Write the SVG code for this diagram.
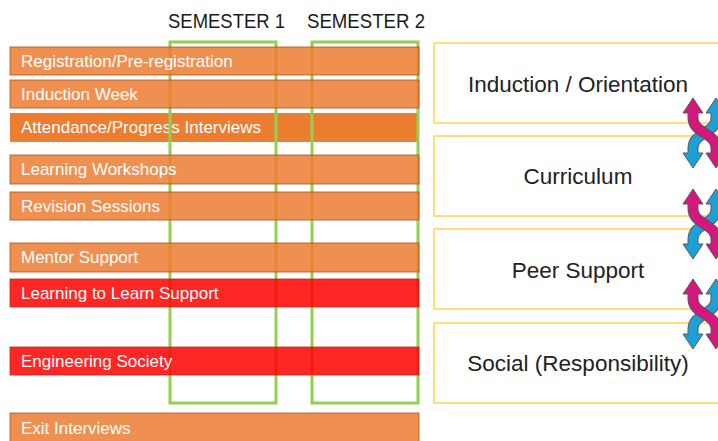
<svg xmlns="http://www.w3.org/2000/svg" xmlns:xlink="http://www.w3.org/1999/xlink" width="718" height="441" viewBox="0 0 718 441">
<style>
.bar{fill:#ED7D31;fill-opacity:0.85;stroke:#A85420;stroke-opacity:0.8;stroke-width:1}
.bar.solid{fill-opacity:1;stroke:none}
.bar.red{fill:#FF0000;stroke:#B03020}
.bt{font-family:"Liberation Sans",Arial,sans-serif;font-size:17px;fill:#FFFFFF}
.sem{fill:none;stroke:#92D050;stroke-width:3}
.st{font-family:"Liberation Sans",Arial,sans-serif;font-size:21px;fill:#1A1A1A}
.box{fill:#FFFFFF;stroke:#FFD34F;stroke-width:1.5}
.bx{font-family:"Liberation Sans",Arial,sans-serif;font-size:22.5px;fill:#222222;text-anchor:middle}
.head{stroke:#5A5A5A;stroke-width:1;stroke-linejoin:round}
.out{fill:none;stroke:#5A5A5A;stroke-width:11}
.mag{fill:#D4177C}
.blu{fill:#1BA0D8}
.magS{fill:none;stroke:#D4177C;stroke-width:9}
.bluS{fill:none;stroke:#1BA0D8;stroke-width:9}
</style>
<defs>
<g id="swap">
  <polygon class="head blu" points="716,0 726,15 706,15"/>
  <polygon class="head blu" points="693,70 703,55 683,55"/>
  <path class="out" d="M716,15 L716,20 C716,35 693,35 693,50 L693,55"/>
  <path class="bluS" d="M716,14 L716,20 C716,35 693,35 693,50 L693,56"/>
  <polygon class="head mag" points="693,0 703,15 683,15"/>
  <polygon class="head mag" points="716,70 726,55 706,55"/>
  <path class="out" d="M693,15 L693,20 C693,35 716,35 716,50 L716,55"/>
  <path class="magS" d="M693,14 L693,20 C693,35 716,35 716,50 L716,56"/>
</g>
</defs>

<g id="semester-labels">
  <text class="st" x="168" y="28" textLength="117" lengthAdjust="spacingAndGlyphs">SEMESTER 1</text>
  <text class="st" x="307" y="28" textLength="118" lengthAdjust="spacingAndGlyphs">SEMESTER 2</text>
</g>

<g id="attendance">
  <rect class="bar solid" x="10" y="113" width="409" height="29"/>
  <text class="bt" x="21" y="133">Attendance/Progress Interviews</text>
</g>

<g id="semester-1"><rect class="sem" x="170" y="42" width="106" height="361"/></g>
<g id="semester-2"><rect class="sem" x="312" y="42" width="106" height="361"/></g>

<g id="registration">
  <rect class="bar" x="10" y="47" width="409" height="28"/>
  <text class="bt" x="21" y="67">Registration/Pre-registration</text>
</g>
<g id="induction-week">
  <rect class="bar" x="10" y="80" width="409" height="28"/>
  <text class="bt" x="21" y="100">Induction Week</text>
</g>
<g id="learning-workshops">
  <rect class="bar" x="10" y="155" width="409" height="29"/>
  <text class="bt" x="21" y="175">Learning Workshops</text>
</g>
<g id="revision-sessions">
  <rect class="bar" x="10" y="192" width="409" height="28"/>
  <text class="bt" x="21" y="212">Revision Sessions</text>
</g>
<g id="mentor-support">
  <rect class="bar" x="10" y="243" width="409" height="29"/>
  <text class="bt" x="21" y="263">Mentor Support</text>
</g>
<g id="learning-to-learn">
  <rect class="bar red" x="10" y="279" width="409" height="28"/>
  <text class="bt" x="21" y="299">Learning to Learn Support</text>
</g>
<g id="engineering-society">
  <rect class="bar red" x="10" y="347" width="409" height="28"/>
  <text class="bt" x="21" y="367">Engineering Society</text>
</g>
<g id="exit-interviews">
  <rect class="bar" x="10" y="413" width="409" height="40"/>
  <text class="bt" x="21" y="434">Exit Interviews</text>
</g>

<g id="induction-orientation">
  <rect class="box" x="434" y="43" width="300" height="80"/>
  <text class="bx" x="578" y="92">Induction / Orientation</text>
</g>
<g id="curriculum">
  <rect class="box" x="434" y="136" width="300" height="80"/>
  <text class="bx" x="578" y="184">Curriculum</text>
</g>
<g id="peer-support">
  <rect class="box" x="434" y="229" width="300" height="80"/>
  <text class="bx" x="578" y="278">Peer Support</text>
</g>
<g id="social">
  <rect class="box" x="434" y="323" width="300" height="80"/>
  <text class="bx" x="578" y="371">Social (Responsibility)</text>
</g>

<g id="connectors">
  <use xlink:href="#swap" transform="translate(0,98)"/>
  <use xlink:href="#swap" transform="translate(0,189)"/>
  <use xlink:href="#swap" transform="translate(0,279)"/>
</g>
</svg>
